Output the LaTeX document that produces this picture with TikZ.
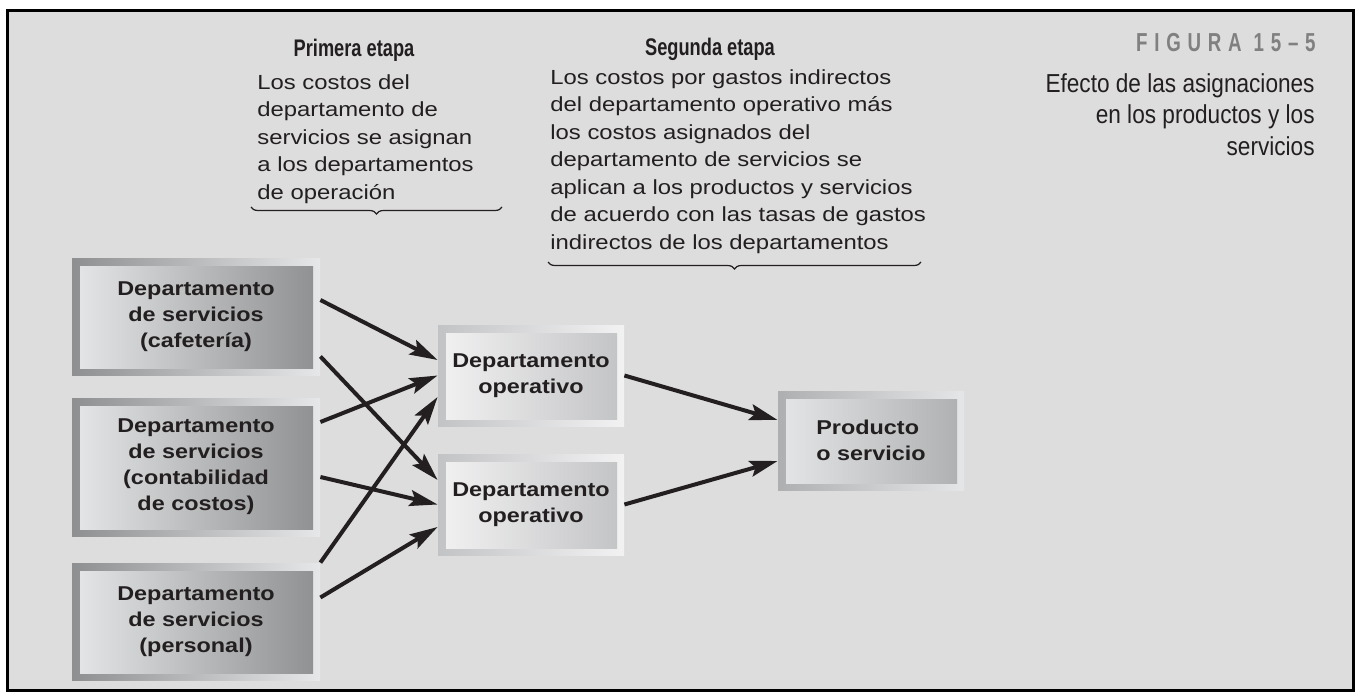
\documentclass[tikz,border=0pt]{standalone}
\usepackage{fontspec}
\setmainfont[FakeStretch=1.17]{Liberation Sans}
\newfontfamily\capfont[FakeStretch=0.87]{Liberation Sans}
\newfontfamily\headfont[FakeStretch=0.76]{Liberation Sans}
\newfontfamily\figfont[FakeStretch=0.72]{Liberation Sans}
\usetikzlibrary{arrows.meta,decorations.pathreplacing}
\definecolor{bgray}{HTML}{DDDDDD}
\definecolor{ink}{HTML}{231F20}
\definecolor{figgray}{HTML}{808080}
\definecolor{svcdk}{HTML}{8E8F91}
\definecolor{svclt}{HTML}{E6E7E8}
\definecolor{opedk}{HTML}{C2C3C5}
\definecolor{opelt}{HTML}{F2F2F3}
\definecolor{prddk}{HTML}{AEAFB1}
\definecolor{prdlt}{HTML}{E5E6E7}

\begin{document}
\begin{tikzpicture}[x=0.5pt,y=-0.5pt,
  arr/.style={-{Stealth[length=14pt,width=8pt,inset=2.5pt]},line width=2pt,draw=ink},
  panel/.style n args={4}{inner sep=0pt,text=ink,font=\bfseries\fontsize{10}{13}\selectfont,
    left color=#1,right color=#2,
    path picture={\shade[left color=#3,right color=#4]
      ([xshift=4pt,yshift=-4pt]path picture bounding box.north west) rectangle
      ([xshift=-3.5pt,yshift=3.5pt]path picture bounding box.south east);}},
  svc/.style={panel={svcdk}{svclt}{svclt}{svcdk},minimum width=124pt,align=center},
  ope/.style={panel={opedk}{opelt}{opelt}{opedk},minimum width=93pt,minimum height=50.5pt,align=center},
  txt/.style={inner sep=0pt,text=ink,align=left,font=\fontsize{10.2}{13.75}\selectfont},
  head/.style={inner sep=0pt,text=ink,anchor=base,font=\headfont\bfseries\fontsize{12}{14}\selectfont},
  brc/.style={decorate,decoration={brace,mirror,amplitude=3.5pt},draw=ink,line width=0.6pt}]
\useasboundingbox (0,0) rectangle (1357,696);
\draw[line width=1.5pt,fill=bgray] (7,10) rectangle (1353,690);

% etapas
\node[head] (h1) at (354,56) {Primera etapa};
\node[txt,anchor=north west] (t1) at (257,74) {Los costos del\\departamento de\\servicios se asignan\\a los departamentos\\de operación};
\draw[brc] (251,207) -- (502,207);

\node[head] (h2) at (710,55) {Segunda etapa};
\node[txt,anchor=north west] (t2) at (550,69) {Los costos por gastos indirectos\\del departamento operativo más\\los costos asignados del\\departamento de servicios se\\aplican a los productos y servicios\\de acuerdo con las tasas de gastos\\indirectos de los departamentos};
\draw[brc] (548,262) -- (921,262);

\node[anchor=base east,inner sep=0pt,text=figgray,font=\figfont\bfseries\fontsize{13}{15}\selectfont\addfontfeature{LetterSpace=26}] (fig) at (1316,52) {FIGURA 15–5};
\node[anchor=north east,inner sep=0pt,align=right,text=ink,font=\capfont\fontsize{13}{15.75}\selectfont] (cap) at (1315,73) {Efecto de las asignaciones\\en los productos y los\\servicios};

% departamentos
\node[svc,minimum height=58.5pt] (S1) at (196,316.5) {Departamento\\de servicios\\(cafetería)};
\node[svc,minimum height=69pt] (S2) at (196,467) {Departamento\\de servicios\\(contabilidad\\de costos)};
\node[svc,minimum height=58.5pt] (S3) at (196,621.5) {Departamento\\de servicios\\(personal)};

\node[ope] (O1) at (531,375.5) {Departamento\\operativo};
\node[ope] (O2) at (531,504.5) {Departamento\\operativo};

\node[panel={prddk}{prdlt}{prdlt}{prddk},minimum width=93pt,minimum height=49.5pt,align=left] (P) at (871,440.5) {Producto\\o servicio};

\path ([yshift=8.25pt]S1.east) edge[arr] ([yshift=7.75pt]O1.west);
\path ([yshift=-20pt]S1.east) edge[arr] ([yshift=12.25pt]O2.west);
\path ([yshift=22.5pt]S2.east) edge[arr] (O1.west);
\path ([yshift=-5pt]S2.east) edge[arr] (O2.west);
\path (S3.north east) edge[arr] ([yshift=-10.75pt]O1.west);
\path ([yshift=12pt]S3.east) edge[arr] ([yshift=-11.25pt]O2.west);

\path (O1.east) edge[arr] ([yshift=10.25pt]P.west);
\path (O2.east) edge[arr] ([yshift=-10.25pt]P.west);

\end{tikzpicture}
\end{document}
